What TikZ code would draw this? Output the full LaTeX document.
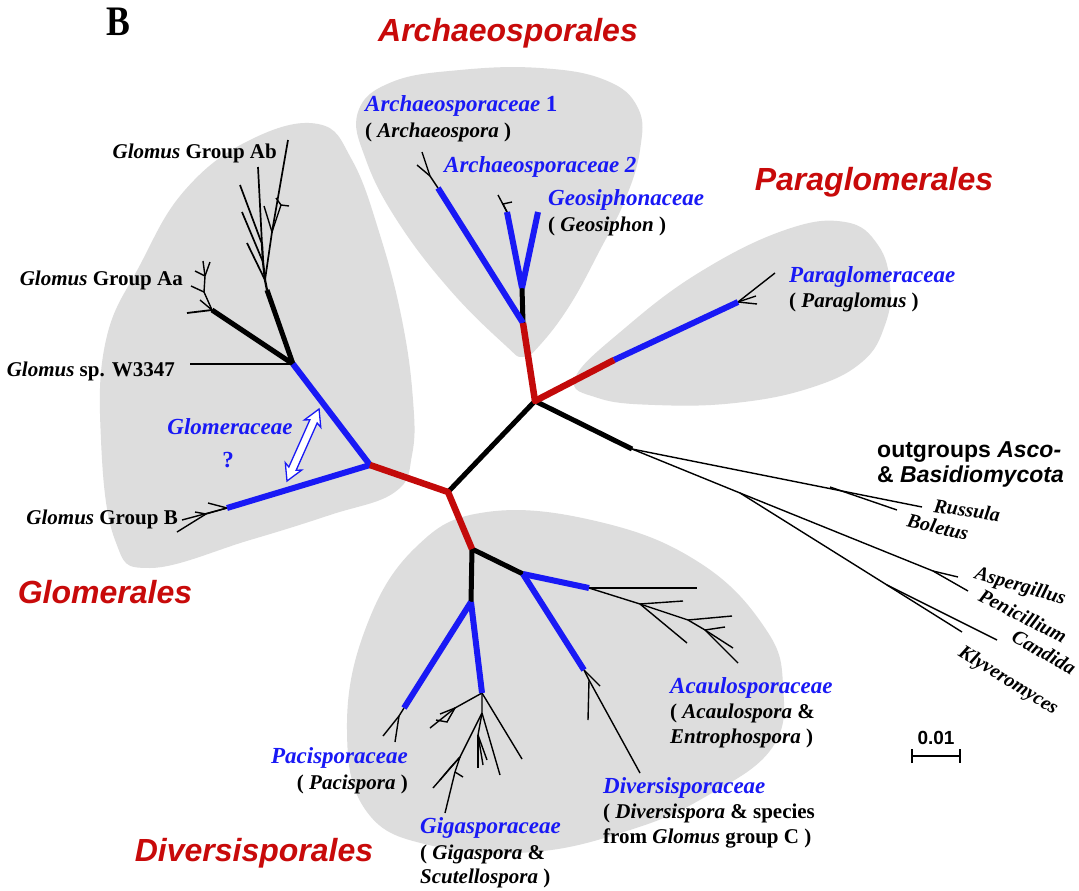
\documentclass[tikz,border=0pt]{standalone}
\usepackage{fontspec}
\setmainfont{Liberation Serif}
\newfontfamily\arialf{Liberation Sans}
\usetikzlibrary{arrows.meta}
\definecolor{fam}{RGB}{25,25,245}
\definecolor{ordr}{RGB}{200,10,10}
\definecolor{brred}{RGB}{195,10,10}
\definecolor{blobc}{RGB}{221,221,221}
\newcommand\fsz[2]{\fontsize{#1}{#2}\selectfont}
\begin{document}
\begin{tikzpicture}[x=1pt,y=-1pt,
  twig/.style={black,line width=1.4pt},
  trunk/.style={black,line width=5pt},
  famb/.style={fam,line width=6pt},
  ordb/.style={brred,line width=6.5pt,line join=round},
  blobfill/.style={fill=blobc,draw=none},
  famlab/.style={text=fam,font=\fsz{23}{26}\bfseries\itshape,inner sep=0},
  genlab/.style={font=\fsz{21}{24}\bfseries,inner sep=0},
  ordlab/.style={text=ordr,font=\arialf\fsz{32}{36}\bfseries\itshape,inner sep=0},
  outlab/.style={font=\fsz{20}{24}\bfseries\itshape,inner sep=0},
  hollowarrow/.style={draw=fam,fill=white,line width=1.3pt,line join=miter},
]
\useasboundingbox (0,0) rectangle (1079,891);
\fill[white] (0,0) rectangle (1079,891);

% ---------- background blobs ----------
\fill[blobfill] plot[smooth cycle,tension=0.7] coordinates {
 (318,124) (352,160) (380,235) (402,320) (413,400) (412,455) (395,492) (330,515) (250,540) (150,568) (115,540) (101,440) (106,340) (140,265) (185,190) (250,140)};
\fill[blobfill] plot[smooth cycle,tension=0.7] coordinates {
 (358,112) (392,82) (460,70) (540,68) (605,80) (638,108) (640,150) (625,200) (600,250) (570,305) (540,345) (523,357) (505,345) (450,290) (398,222) (366,160)};
\fill[blobfill] plot[smooth cycle,tension=0.7] coordinates {
 (575,378) (625,328) (700,272) (785,230) (845,222) (878,245) (890,285) (885,325) (862,362) (810,388) (735,403) (655,405) (598,398)};
\fill[blobfill] plot[smooth cycle,tension=0.7] coordinates {
 (487,512) (600,522) (700,563) (765,628) (783,685) (772,748) (705,797) (630,830) (533,852) (433,846) (367,812) (347,730) (365,630) (415,548)};

% ---------- main nodes ----------
\coordinate (C1) at (448,492);
\coordinate (G) at (370,465);
\coordinate (A) at (535,401);
\coordinate (D) at (472,549);
\coordinate (Ar) at (523,323);
\coordinate (Ax) at (522,288);
\coordinate (A1) at (438,188);
\coordinate (A2) at (507,212);
\coordinate (Gs) at (538,212);
\coordinate (Pr) at (614,360);
\coordinate (Pe) at (738,302);
\coordinate (O) at (632,449);
\coordinate (J1) at (293,364);
\coordinate (Bn) at (227,508);
\coordinate (Abs) at (267,290);
\coordinate (Aaj) at (212,310);
\coordinate (W) at (190,364);
\coordinate (P) at (471,602);
\coordinate (Q) at (523,574);
\coordinate (Pac) at (404,708);
\coordinate (Gig) at (482,693);
\coordinate (Aca) at (589,588);
\coordinate (Div) at (584,670);
% outgroups
\coordinate (Bs) at (830,487);
\coordinate (Ru) at (922,507);
\coordinate (Bo) at (897,510);
\coordinate (Ac) at (740,493);
\coordinate (Ap) at (933,571);
\coordinate (As) at (958,577);
\coordinate (Pn) at (968,591);
\coordinate (Ck) at (887,585);
\coordinate (Ca) at (997,640);
\coordinate (Kl) at (962,632);

% ---------- outgroup twigs ----------
\draw[twig] (O) -- (Ru);
\draw[twig] (Bs) -- (Bo);
\draw[twig] (O) -- (Ac) -- (Ap) -- (As);
\draw[twig] (Ap) -- (Pn);
\draw[twig] (Ac) -- (Ck) -- (Ca);
\draw[twig] (Ck) -- (Kl);

% ---------- Glomerales twigs ----------
\draw[twig] (J1) -- (W);
% Ab group
\coordinate (ab1) at (265,280);
\coordinate (ab2) at (263,262);
\coordinate (ab3) at (262,244);
\coordinate (ab4) at (272,232);
\coordinate (ab5) at (281,205);
\draw[twig,line width=2.2pt] (Abs) -- (ab1) -- (ab2) -- (ab3);
\draw[twig,line width=1.7pt] (ab1) -- (247,243);
\draw[twig,line width=1.7pt] (ab2) -- (242,212);
\draw[twig,line width=1.7pt] (ab3) -- (240,185);
\draw[twig,line width=1.7pt] (ab3) -- (258,167);
\draw[twig,line width=1.7pt] (ab1) -- (ab4) -- (288,140);
\draw[twig] (ab4) -- (ab5) -- (289,206);
\draw[twig] (ab5) -- (276,198);
\draw[twig] (ab4) -- (264,206);
% Aa group
\coordinate (aa1) at (204,292);
\coordinate (aa2) at (205,276);
\draw[twig,line width=1.8pt] (Aaj) -- (187,313);
\draw[twig] (Aaj) -- (aa1) -- (aa2) -- (203,261);
\draw[twig] (aa2) -- (210,262);
\draw[twig] (aa1) -- (191,286);
\draw[twig] (aa2) -- (195,271);
\draw[twig] (Aaj) -- (200,300);
% Group B
\coordinate (bb1) at (206,514);
\draw[twig] (Bn) -- (182,520);
\draw[twig] (Bn) -- (bb1) -- (177,532);
\draw[twig] (Bn) -- (208,503);
\draw[twig] (bb1) -- (195,512);

% ---------- Archaeosporales twigs ----------
\coordinate (a1b) at (430,176);
\draw[twig] (A1) -- (a1b) -- (422,152);
\draw[twig] (a1b) -- (417,165);
\draw[twig] (A2) -- (498,195);
\draw[twig] (A2) -- (503,204) -- (512,202);

% ---------- Paraglomerales twigs ----------
\draw[twig] (Pe) -- (775,273);
\draw[twig] (Pe) -- (756,296);
\draw[twig] (Pe) -- (757,304);

% ---------- Diversisporales twigs ----------
\coordinate (pc1) at (399,716);
\draw[twig] (Pac) -- (pc1) -- (383,736);
\draw[twig] (pc1) -- (395,742);
% Gigaspora
\coordinate (g1) at (482,713);
\coordinate (g2) at (478,735);
\coordinate (g3) at (460,757);
\coordinate (g4) at (455,772);
\coordinate (gx) at (455,708);
\draw[twig] (Gig) -- (gx) -- (430,728);
\draw[twig] (gx) -- (440,714);
\draw[twig] (gx) -- (447,722) -- (436,720);
\draw[twig] (Gig) -- (522,759);
\draw[twig] (Gig) -- (g1) -- (500,775);
\draw[twig] (g1) -- (g2) -- (483,765);
\draw[twig] (g2) -- (478,768);
\draw[twig] (g2) -- (487,760);
\draw[twig] (g1) -- (g3) -- (g4) -- (445,813);
\draw[twig] (g3) -- (433,788);
\draw[twig] (g4) -- (463,777);
\draw[twig] (g3) -- (450,768) -- (440,780);
% Diversispora
\coordinate (dv1) at (589,680);
\draw[twig] (Div) -- (600,686);
\draw[twig] (Div) -- (dv1) -- (588,720);
\draw[twig] (dv1) -- (640,773);
% Acaulospora
\coordinate (ac1) at (640,604);
\coordinate (ac2) at (688,620);
\coordinate (ac3) at (705,630);
\draw[twig] (Aca) -- (697,588);
\draw[twig] (Aca) -- (ac1) -- (683,601);
\draw[twig] (ac1) -- (687,643);
\draw[twig] (ac1) -- (ac2) -- (732,616);
\draw[twig] (ac2) -- (ac3) -- (725,627);
\draw[twig] (ac3) -- (733,648);
\draw[twig] (ac3) -- (738,663);

% ---------- thick black branches ----------
\draw[trunk] (C1) -- (A);
\draw[trunk] (A) -- (O);
\draw[trunk] (J1) -- (Abs);
\draw[trunk] (J1) -- (Aaj);
\draw[trunk] (Ar) -- (Ax);
\draw[trunk] (D) -- (P);
\draw[trunk] (D) -- (Q);

% ---------- family (blue) branches ----------
\draw[famb] (G) -- (J1);
\draw[famb] (G) -- (Bn);
\draw[famb] (Ar) -- (A1);
\draw[famb] (Ax) -- (A2);
\draw[famb] (Ax) -- (Gs);
\draw[famb] (Pr) -- (Pe);
\draw[famb] (P) -- (Pac);
\draw[famb] (P) -- (Gig);
\draw[famb] (Q) -- (Aca);
\draw[famb] (Q) -- (Div);

% ---------- order (red) branches ----------
\draw[ordb] (G) -- (C1) -- (D);
\draw[ordb] (Ar) -- (A) -- (Pr);

% ---------- Glomeraceae hollow double arrow ----------
\coordinate (arA) at (287,481);
\begin{scope}[shift={(arA)},rotate=66]
\draw[hollowarrow] (0,0) -- (16,9) -- (13.5,4) -- (65.3,4) -- (62.8,9) -- (78.8,0)
   -- (62.8,-9) -- (65.3,-4) -- (13.5,-4) -- (16,-9) -- cycle;
\end{scope}

% ---------- labels ----------
\node[font=\fsz{42}{44}\bfseries,xscale=0.85,inner sep=0] (lB) at (118,22) {B};

\node[ordlab] (oArch) at (508,33) {Archaeosporales};
\node[ordlab] (oPara) at (874,182) {Paraglomerales};
\node[ordlab] (oGlom) at (105,592) {Glomerales};
\node[ordlab] (oDiv) at (254,853) {Diversisporales};

\node[genlab,anchor=east] (tAb) at (277,153) {\textit{Glomus} Group Ab};
\node[genlab,anchor=east] (tAa) at (183,280) {\textit{Glomus} Group Aa};
\node[genlab,anchor=east] (tW) at (175,371) {\textit{Glomus} sp. W3347};
\node[genlab,anchor=east] (tB) at (178,519) {\textit{Glomus} Group B};
\node[famlab] (tGlomer) at (230,427) {Glomeraceae};
\node[famlab,font=\fsz{23}{26}\bfseries] (tQ) at (228,460) {?};

\node[famlab,anchor=west] (tA1) at (365,106) {Archaeosporaceae \textup{1}};
\node[genlab,anchor=west] (tA1g) at (365,132) {( \textit{Archaeospora} )};
\node[famlab,anchor=west] (tA2) at (444,167) {Archaeosporaceae 2};
\node[famlab,anchor=west] (tGs) at (548,200) {Geosiphonaceae};
\node[genlab,anchor=west] (tGsg) at (548,226) {( \textit{Geosiphon} )};

\node[famlab,anchor=west] (tPe) at (789,277) {Paraglomeraceae};
\node[genlab,anchor=west] (tPeg) at (789,302) {( \textit{Paraglomus} )};

\node[font=\arialf\fsz{23}{26}\bfseries,inner sep=0,anchor=west] (tOut1) at (877,452) {outgroups \textit{Asco-}};
\node[font=\arialf\fsz{23}{26}\bfseries,inner sep=0,anchor=west] (tOut2) at (877,477) {\& \textit{Basidiomycota}};
\node[outlab,rotate=-8] (tRu) at (967,510) {Russula};
\node[outlab,rotate=-13] (tBo) at (938,527) {Boletus};
\node[outlab,rotate=-16] (tAs) at (1020,587) {Aspergillus};
\node[outlab,rotate=-27] (tPn) at (1023,616) {Penicillium};
\node[outlab,rotate=-30] (tCa) at (1044,652) {Candida};
\node[outlab,rotate=-32] (tKl) at (1008,681) {Klyveromyces};

\node[font=\arialf\fsz{19}{22}\bfseries,inner sep=0] (tScale) at (936,738) {0.01};
\coordinate (sb1) at (911,756);
\coordinate (sb2) at (961,756);
\draw[line width=1.6pt,{Bar[width=14pt]}-{Bar[width=14pt]}] (sb1) -- (sb2);

\node[famlab,anchor=east] (tPac) at (408,758) {Pacisporaceae};
\node[genlab,anchor=east] (tPacg) at (408,784) {( \textit{Pacispora} )};
\node[famlab,anchor=west] (tGig) at (420,828) {Gigasporaceae};
\node[genlab,anchor=west] (tGig1) at (420,854) {( \textit{Gigaspora} \&};
\node[genlab,anchor=west] (tGig2) at (420,878) {\textit{Scutellospora} )};
\node[famlab,anchor=west] (tDiv) at (603,788) {Diversisporaceae};
\node[genlab,anchor=west] (tDiv1) at (603,813) {( \textit{Diversispora} \& species};
\node[genlab,anchor=west] (tDiv2) at (603,838) {from \textit{Glomus} group C )};
\node[famlab,anchor=west] (tAca) at (670,688) {Acaulosporaceae};
\node[genlab,anchor=west] (tAca1) at (670,713) {( \textit{Acaulospora} \&};
\node[genlab,anchor=west] (tAca2) at (670,738) {\textit{Entrophospora} )};
\end{tikzpicture}
\end{document}
